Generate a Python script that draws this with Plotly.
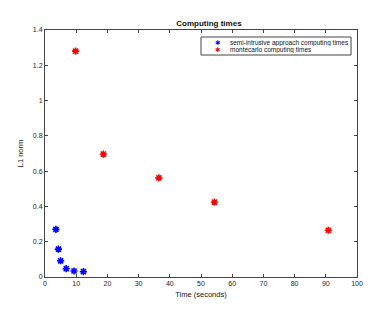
import plotly.graph_objects as go

semi_time = [3.5, 4.3, 5.0, 6.8, 9.3, 12.3]
semi_l1 = [0.27, 0.158, 0.092, 0.047, 0.034, 0.030]
mc_time = [9.8, 18.7, 36.5, 54.3, 90.8]
mc_l1 = [1.28, 0.697, 0.562, 0.425, 0.265]
series_names = ["semi-intrusive approach computing times", "montecarlo computing times"]
series_colors = ["blue", "red"]

x_ticks = list(range(0, 101, 10))
y_ticks = [0, 0.2, 0.4, 0.6, 0.8, 1, 1.2, 1.4]

fig = go.Figure()
for xs, ys, name, col in [(semi_time, semi_l1, series_names[0], series_colors[0]),
                          (mc_time, mc_l1, series_names[1], series_colors[1])]:
    fig.add_trace(go.Scatter(
        x=xs, y=ys, mode="markers", name=name, showlegend=False,
        marker=dict(symbol="asterisk-open", size=6, color=col,
                    line=dict(color=col, width=1.6)),
    ))

axis_common = dict(
    showline=True, linecolor="#444444", linewidth=1, mirror="ticks",
    ticks="inside", ticklen=3, tickcolor="#444444",
    showgrid=False, zeroline=False,
    tickfont=dict(size=7, color="#222222"),
)

# manual legend (box + entries) in paper coords
W, H = 382, 313
L, R, T, B = 35, 33, 22, 44
pw, ph = W - L - R, H - T - B
def px(fx):
    return (fx - L) / pw
def py(fy):
    return (H - B - fy) / ph

shapes = [dict(type="rect", xref="paper", yref="paper",
               x0=px(192), x1=px(343), y0=py(47), y1=py(29),
               line=dict(color="#444444", width=1), fillcolor="white", layer="above")]
annotations = []
for i, (name, col) in enumerate(zip(series_names, series_colors)):
    fy = 34.5 + i * 7
    annotations.append(dict(xref="paper", yref="paper", x=px(209), y=py(fy),
                            text="✱", showarrow=False, xanchor="center", yanchor="middle",
                            font=dict(size=6.5, color=col, family="DejaVu Sans"),
                            height=7, borderpad=0))
    annotations.append(dict(xref="paper", yref="paper", x=px(220), y=py(fy),
                            text=name, showarrow=False, xanchor="left", yanchor="middle",
                            font=dict(size=6.5, color="#111111"),
                            height=7, borderpad=0))

fig.update_layout(
    width=W, height=H,
    margin=dict(l=L, r=R, t=T, b=B),
    paper_bgcolor="white", plot_bgcolor="white",
    font=dict(family="Liberation Sans, Arial, sans-serif", color="#111111"),
    title=dict(text="<b>Computing times</b>", x=px(200), xanchor="center",
               xref="paper", y=1 - 15 / H, yanchor="middle", font=dict(size=8)),
    xaxis=dict(range=[0, 100], tickvals=x_ticks,
               title=dict(text="Time (seconds)", font=dict(size=7.5), standoff=5),
               **axis_common),
    yaxis=dict(range=[0, 1.4], tickvals=y_ticks,
               title=dict(text="L1 norm", font=dict(size=7.5), standoff=8),
               **axis_common),
    shapes=shapes,
    annotations=annotations,
    showlegend=False,
)

fig.write_html("out.html")
